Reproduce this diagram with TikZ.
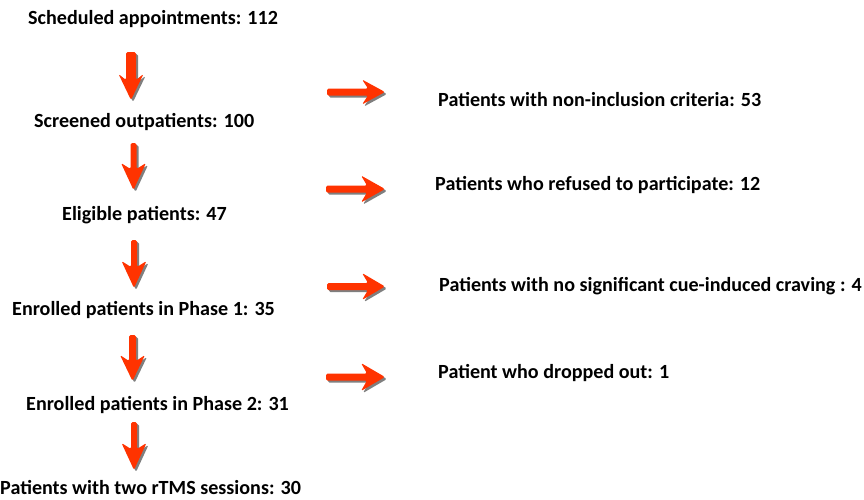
\documentclass[tikz,border=0pt]{standalone}
\usepackage{fontspec}
\setmainfont{Carlito}
\definecolor{arrowred}{HTML}{FF3300}
\definecolor{shadowgray}{HTML}{7F7F7F}
\tikzset{
  lbl/.style={font=\bfseries\fontsize{20.1}{24}\selectfont, inner sep=0pt, anchor=base west, text=black},
  arrowbody/.style={fill=arrowred, rounded corners=1.5pt},
  arrowshadow/.style={fill=shadowgray, rounded corners=1.5pt, shift={(2,2)}}
}
% down arrow: cx, ytop, yhead, ytip, half shaft width
\newcommand{\DownArrowShape}[5]{%
  \foreach \st in {arrowshadow,arrowbody}{%
    \path[\st] (#1-#5,#2) -- (#1-#5,#3+6) -- (#1-12.5,#3) -- (#1,#4)
      -- (#1+12.5,#3) -- (#1+#5,#3+6) -- (#1+#5,#2) -- cycle;
  }}
% right arrow: cy, xstart, xhead, xtip, half shaft width, half head width
\newcommand{\RightArrowShape}[6]{%
  \foreach \st in {arrowshadow,arrowbody}{%
    \path[\st] (#2,#1-#5) -- (#3+6,#1-#5) -- (#3,#1-#6) -- (#4,#1)
      -- (#3,#1+#6) -- (#3+6,#1+#5) -- (#2,#1+#5) -- cycle;
  }}
\begin{document}
\begin{tikzpicture}[x=1pt,y=-1pt]
\useasboundingbox[fill=white] (0,0) rectangle (864,499);
% left column labels
\node[lbl] (n1) at (28,24) {Scheduled appointments: 112};
\node[lbl] (n2) at (34,127) {Screened outpatients: 100};
\node[lbl] (n3) at (62,220) {Eligible patients: 47};
\node[lbl] (n4) at (12,315) {Enrolled patients in Phase 1: 35};
\node[lbl] (n5) at (26,410) {Enrolled patients in Phase 2: 31};
\node[lbl] (n6) at (0,494) {Patients with two rTMS sessions: 30};
% right column labels
\node[lbl] (r1) at (438,106) {Patients with non-inclusion criteria: 53};
\node[lbl] (r2) at (435,190) {Patients who refused to participate: 12};
\node[lbl] (r3) at (439,291) {Patients with no significant cue-induced craving : 4};
\node[lbl] (r4) at (438,378) {Patient who dropped out: 1};
% down arrows
\DownArrowShape{131}{52}{74}{100}{5}
\DownArrowShape{133.5}{143}{163}{190}{3}
\DownArrowShape{134}{240}{261}{288}{3}
\DownArrowShape{132.5}{335}{355}{381}{3.5}
\DownArrowShape{134}{422}{443}{470}{3}
% right arrows
\RightArrowShape{92}{327}{362}{385}{3.5}{12.5}
\RightArrowShape{189}{326}{361}{385}{3.5}{13.5}
\RightArrowShape{286.5}{327}{362}{385}{3.5}{13.5}
\RightArrowShape{377}{326}{361}{385}{3.5}{14}
\end{tikzpicture}
\end{document}
